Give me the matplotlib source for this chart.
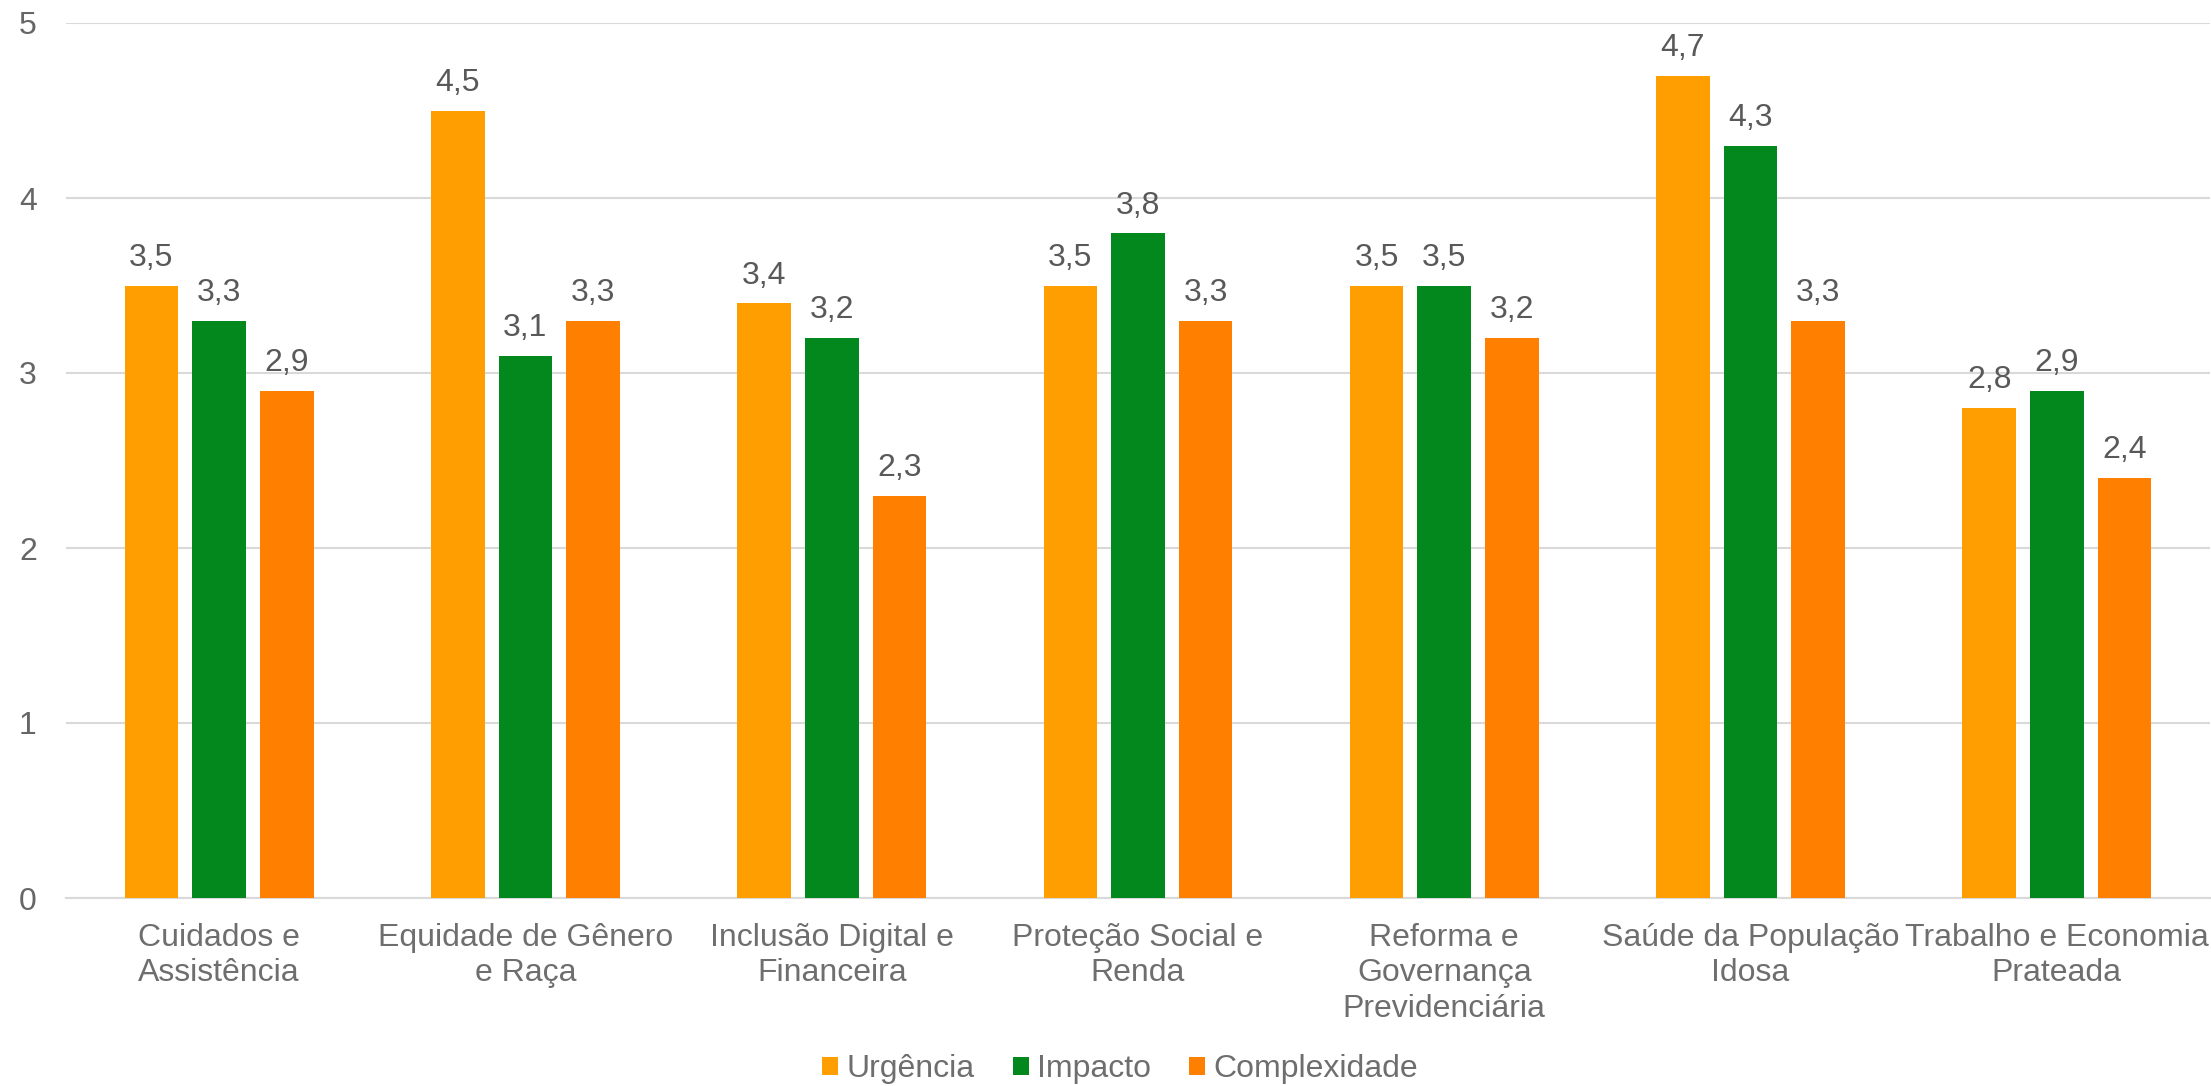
import matplotlib
matplotlib.use("Agg")
import matplotlib.pyplot as plt
import numpy as np

categories = ["Cuidados e\nAssistência", "Equidade de Gênero\ne Raça", "Inclusão Digital e\nFinanceira",
              "Proteção Social e\nRenda", "Reforma e\nGovernança\nPrevidenciária",
              "Saúde da População\nIdosa", "Trabalho e Economia\nPrateada"]
series_names = ["Urgência", "Impacto", "Complexidade"]
urgencia = [3.5, 4.5, 3.4, 3.5, 3.5, 4.7, 2.8]
impacto = [3.3, 3.1, 3.2, 3.8, 3.5, 4.3, 2.9]
complexidade = [2.9, 3.3, 2.3, 3.3, 3.2, 3.3, 2.4]
colors = ["#FF9E00", "#03881E", "#FF7F00"]
yticks = [0, 1, 2, 3, 4, 5]

plt.rcParams['font.family'] = ['Liberation Sans', 'DejaVu Sans']
FS = 23

fig = plt.figure(figsize=(22.11, 10.86), dpi=100)
ax = fig.add_axes([66/2211, 1-898/1086, (2210-66)/2211, (898-23)/1086])

x = np.arange(len(categories))
w = 0.175
off = 0.221
for i, (vals, name, c) in enumerate(zip([urgencia, impacto, complexidade], series_names, colors)):
    bars = ax.bar(x + (i-1)*off, vals, width=w, color=c, label=name, zorder=3)
    for b, v in zip(bars, vals):
        ax.annotate(f"{v:.1f}".replace(".", ","), (b.get_x()+b.get_width()/2, v),
                    xytext=(0, 9), textcoords="offset points", ha="center", va="bottom",
                    fontsize=FS, color="#595959")

ax.set_xlim(-0.5, len(categories)-0.5)
ax.set_ylim(0, 5)
ax.set_yticks(yticks)
ax.set_yticklabels([str(t) for t in yticks], fontsize=FS, color="#666666")
ax.set_xticks(x)
ax.set_xticklabels(categories, fontsize=FS, color="#6E6E6E", linespacing=1.23)
ax.tick_params(axis='both', length=0)
ax.tick_params(axis='y', pad=21)
ax.tick_params(axis='x', pad=18)
ax.grid(axis='y', color="#D9D9D9", linewidth=1.5, zorder=0)
for s in ['top', 'right', 'left']:
    ax.spines[s].set_visible(False)
ax.spines['bottom'].set_color("#D9D9D9")
ax.spines['bottom'].set_linewidth(1.5)

leg = fig.legend(loc="center", bbox_to_anchor=(1120/2211, 1-1069/1086), ncol=3, frameon=False,
                 fontsize=FS, handlelength=0.5, handleheight=0.5, handletextpad=0.25, columnspacing=1.2)
for t in leg.get_texts():
    t.set_color("#6E6E6E")

fig.savefig("out.png", dpi=100, facecolor="white")
